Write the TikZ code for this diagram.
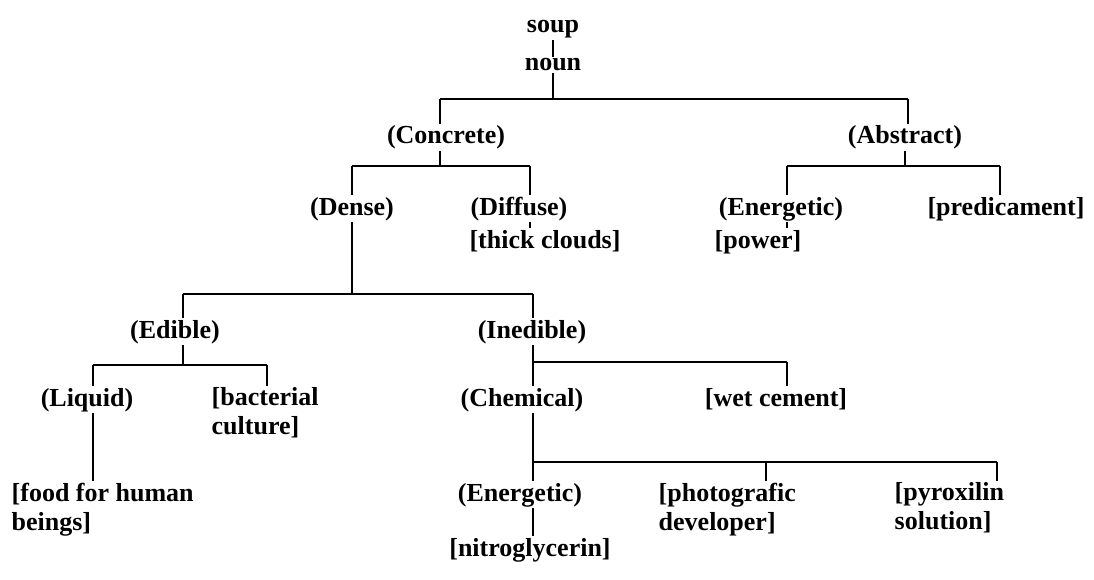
\documentclass[tikz,border=0pt]{standalone}
\usepackage{fontspec}
\setmainfont{Liberation Serif}
\newcommand{\lbfont}{\fontsize{26}{29}\selectfont\bfseries}
\begin{document}
\begin{tikzpicture}[x=1pt,y=-1pt,
  lbl/.style={font=\lbfont, inner sep=1.5pt, anchor=base},
  mlbl/.style={font=\lbfont, inner sep=1.5pt, anchor=north west, align=left},
  conn/.style={line width=1.6pt, line cap=butt}]
\fill[white] (0,0) rectangle (1094,580);
\useasboundingbox (0,0) rectangle (1094,580);

% nodes
\node[lbl] (soup) at (553,33) {soup};
\node[lbl] (noun) at (553,71) {noun};
\node[lbl] (concrete) at (446,144) {(Concrete)};
\node[lbl] (abstract) at (905,144) {(Abstract)};
\node[lbl] (dense) at (352,215) {(Dense)};
\node[lbl] (diffuse) at (519,215) {(Diffuse)};
\node[lbl] (energa) at (781,215) {(Energetic)};
\node[lbl] (predic) at (1006,215) {[predicament]};
\node[lbl] (clouds) at (545,248) {[thick clouds]};
\node[lbl] (power) at (758,248) {[power]};
\node[lbl] (edible) at (175,338) {(Edible)};
\node[lbl] (inedible) at (532,338) {(Inedible)};
\node[lbl] (liquid) at (87,406) {(Liquid)};
\node[mlbl] (bact) at (210,386) {[bacterial\\culture]};
\node[lbl] (chemical) at (522,406) {(Chemical)};
\node[lbl] (wet) at (776,406) {[wet cement]};
\node[mlbl] (food) at (10,481) {[food for human\\beings]};
\node[lbl] (energb) at (520,501) {(Energetic)};
\node[mlbl] (photo) at (657,481) {[photografic\\developer]};
\node[mlbl] (pyro) at (893,481) {[pyroxilin\\solution]};
\node[lbl] (nitro) at (530,556) {[nitroglycerin]};

% bar coordinates
\coordinate (b1L) at (440,99);
\coordinate (b1R) at (908,99);
\coordinate (b2L) at (352,166);
\coordinate (b2M) at (440,166);
\coordinate (b2R) at (530,166);
\coordinate (b3L) at (787,166);
\coordinate (b3M) at (905,166);
\coordinate (b3R) at (1000,166);
\coordinate (b4L) at (183,294);
\coordinate (b4R) at (533,294);
\coordinate (b5L) at (93,365);
\coordinate (b5R) at (267,365);
\coordinate (wcJ) at (533,362);
\coordinate (wcR) at (787,362);
\coordinate (c6J) at (533,462);
\coordinate (c6M) at (766,462);
\coordinate (c6R) at (997,462);

% connectors
\draw[conn] (soup.south) -- (noun.north);
\draw[conn] (noun.south) -- (noun.south |- b1L);
\draw[conn] (b1L) -- (b1R);
\draw[conn] (b1L) -- (b1L |- concrete.north);
\draw[conn] (b1R) -- (b1R |- abstract.north);

\draw[conn] (b2M |- concrete.south) -- (b2M);
\draw[conn] (b2L) -- (b2R);
\draw[conn] (b2L) -- (b2L |- dense.north);
\draw[conn] (b2R) -- (b2R |- diffuse.north);
\draw[conn] (b2R |- diffuse.south) -- (b2R |- clouds.north);

\draw[conn] (b3M |- abstract.south) -- (b3M);
\draw[conn] (b3L) -- (b3R);
\draw[conn] (b3L) -- (b3L |- energa.north);
\draw[conn] (b3R) -- (b3R |- predic.north);
\draw[conn] (b3L |- energa.south) -- (b3L |- power.north);

\draw[conn] (b2L |- dense.south) -- (b2L |- b4L);
\draw[conn] (b4L) -- (b4R);
\draw[conn] (b4L) -- (b4L |- edible.north);
\draw[conn] (b4R) -- (b4R |- inedible.north);

\draw[conn] (b4L |- edible.south) -- (b4L |- b5L);
\draw[conn] (b5L) -- (b5R);
\draw[conn] (b5L) -- (b5L |- liquid.north);
\draw[conn] (b5R) -- (b5R |- bact.north);
\draw[conn] (b5L |- liquid.south) -- (b5L |- food.north);

\draw[conn] (b4R |- inedible.south) -- (b4R |- chemical.north);
\draw[conn] (wcJ) -- (wcR);
\draw[conn] (wcR) -- (wcR |- wet.north);

\draw[conn] (b4R |- chemical.south) -- (b4R |- energb.north);
\draw[conn] (c6J) -- (c6R);
\draw[conn] (c6M) -- (c6M |- photo.north);
\draw[conn] (c6R) -- (c6R |- pyro.north);
\draw[conn] (b4R |- energb.south) -- (b4R |- nitro.north);
\end{tikzpicture}
\end{document}
